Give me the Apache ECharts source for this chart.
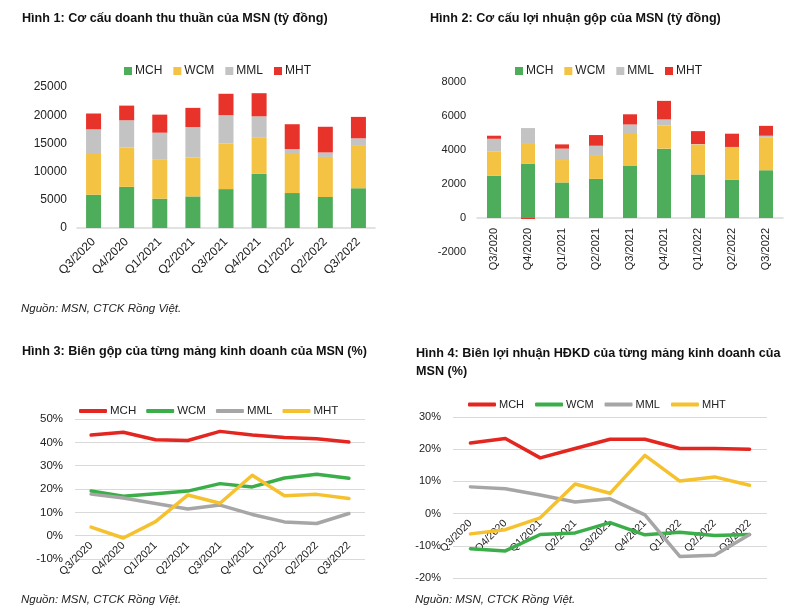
<!DOCTYPE html>
<html><head><meta charset="utf-8">
<script src="https://cdn.jsdelivr.net/npm/echarts@6/dist/echarts.min.js"></script>
<style>
html,body{margin:0;padding:0;background:#fff;width:800px;height:616px;overflow:hidden}
.c{position:absolute}
</style></head>
<body>
<div id="c1" class="c" style="left:0;top:0;width:400px;height:320px"></div>
<div id="c2" class="c" style="left:400px;top:0;width:400px;height:320px"></div>
<div id="c3" class="c" style="left:0;top:320px;width:400px;height:296px"></div>
<div id="c4" class="c" style="left:400px;top:320px;width:400px;height:296px"></div>
<script>
const categories = ['Q3/2020','Q4/2020','Q1/2021','Q2/2021','Q3/2021','Q4/2021','Q1/2022','Q2/2022','Q3/2022'];
const seriesNames = ['MCH','WCM','MML','MHT'];

// Hình 1: doanh thu thuần (tỷ đồng)
const rev_MCH = [5900,7300,5200,5600,6900,9600,6200,5500,7050];
const rev_WCM = [7400,7000,7000,6900,8100,6500,7100,7100,7650];
const rev_MML = [4200,4800,4700,5400,5000,3700,700,800,1200];
const rev_MHT = [2800,2600,3200,3400,3800,4100,4400,4550,3800];

// Hình 2: lợi nhuận gộp (tỷ đồng)
const gp_MCH = [2480,3200,2090,2300,3060,4080,2560,2240,2810];
const gp_WCM = [1420,1210,1320,1350,1880,1360,1770,1880,1910];
const gp_MML = [760,880,670,600,560,360,20,60,120];
const gp_MHT = [180,-60,250,630,600,1090,760,780,580];

// Hình 3: biên gộp (%)
const gm_MCH = [43.1,44.3,41.1,40.8,44.7,43.1,42.1,41.5,40.1];
const gm_WCM = [19.1,16.9,18.0,19.1,22.3,20.9,24.7,26.3,24.6];
const gm_MML = [17.8,16.1,13.8,11.4,13.1,9.1,5.9,5.2,9.5];
const gm_MHT = [3.7,-1.0,6.0,17.4,13.9,25.9,17.1,17.7,15.9];

// Hình 4: biên lợi nhuận HĐKD (%)
const om_MCH = [21.9,23.3,17.3,20.2,23.1,23.1,20.2,20.2,20.0];
const om_WCM = [-10.9,-11.6,-6.5,-6.0,-2.8,-6.6,-5.8,-6.8,-6.5];
const om_MML = [8.3,7.7,5.8,3.6,4.6,-0.4,-13.3,-12.9,-6.5];
const om_MHT = [-6.3,-5.0,-1.3,9.2,6.3,18.1,10.1,11.4,8.8];

const titles = [
  'Hình 1: Cơ cấu doanh thu thuần của MSN (tỷ đồng)',
  'Hình 2: Cơ cấu lợi nhuận gộp của MSN (tỷ đồng)',
  'Hình 3: Biên gộp của từng mảng kinh doanh của MSN (%)',
  'Hình 4: Biên lợi nhuận HĐKD của từng mảng kinh doanh của\nMSN (%)'
];
const sourceText = 'Nguồn: MSN, CTCK Rồng Việt.';

const barColors = ['#4EAD5B','#F5C343','#C3C3C3','#E8332A'];
const lineColors = ['#E3261F','#3BAE4A','#A6A6A6','#F5C12E'];
const FONT = 'Liberation Sans, Arial, sans-serif';
const gridColor = '#D9D9D9';
const plain = v => String(v);

function titleComp(text, left, top){
  return {text:text, left:left, top:top, textStyle:{fontFamily:FONT, fontWeight:'bold', fontSize:12.6, color:'#111', lineHeight:18}};
}
function srcComp(left, top){
  return {text:sourceText, left:left, top:top, textStyle:{fontFamily:FONT, fontStyle:'italic', fontWeight:'normal', fontSize:11.5, color:'#222'}};
}

// Chart 1
const c1 = echarts.init(document.getElementById('c1'));
const rev = [rev_MCH, rev_WCM, rev_MML, rev_MHT];
c1.setOption({
  animation:false,
  title:[titleComp(titles[0], 17, 5), srcComp(16, 298)],
  legend:{left:119, top:60, itemWidth:8, itemHeight:8, itemGap:11, icon:'rect',
    textStyle:{fontFamily:FONT, fontSize:12, color:'#222', padding:[0,0,0,-2]}, data:seriesNames},
  grid:{left:77, right:25, top:87, height:141},
  xAxis:{type:'category', data:categories,
    axisLine:{lineStyle:{color:gridColor, width:1.5}}, axisTick:{show:false},
    axisLabel:{rotate:45, fontFamily:FONT, fontSize:12, color:'#222', margin:12, interval:0}},
  yAxis:{type:'value', min:0, max:25000, interval:5000,
    axisLine:{show:false}, axisTick:{show:false}, splitLine:{show:false},
    axisLabel:{fontFamily:FONT, fontSize:12, color:'#222', margin:10, formatter:plain}},
  series: seriesNames.map((n,i)=>({name:n, type:'bar', stack:'a', barWidth:15, data:rev[i], itemStyle:{color:barColors[i]}}))
});

// Chart 2
const c2 = echarts.init(document.getElementById('c2'));
const gp = [gp_MCH, gp_WCM, gp_MML, gp_MHT];
const g2 = {left:77, right:17, top:82, height:170};
c2.setOption({
  animation:false,
  title:[titleComp(titles[1], 25, 5)],
  legend:{left:110, top:60, itemWidth:8, itemHeight:8, itemGap:11, icon:'rect',
    textStyle:{fontFamily:FONT, fontSize:12, color:'#222', padding:[0,0,0,-2]}, data:seriesNames},
  grid:g2,
  xAxis:{type:'category', data:categories, offset:-g2.height*2000/10000,
    axisLine:{onZero:false, lineStyle:{color:gridColor, width:1.5}}, axisTick:{show:false},
    axisLabel:{rotate:90, fontFamily:FONT, fontSize:11, color:'#222', margin:10, interval:0}},
  yAxis:{type:'value', min:-2000, max:8000, interval:2000,
    axisLine:{show:false}, axisTick:{show:false}, splitLine:{show:false},
    axisLabel:{fontFamily:FONT, fontSize:11, color:'#222', margin:11, formatter:plain}},
  series: seriesNames.map((n,i)=>({name:n, type:'bar', stack:'a', barWidth:14, data:gp[i], itemStyle:{color:barColors[i]}}))
});

function lineOption(titleCfg, src, legendLeft, legendTop, legendGap, grid, ymin, ymax, data, fs){
  return {
    animation:false,
    title:[titleCfg, src],
    legend:{left:legendLeft, top:legendTop, itemWidth:28, itemHeight:4, itemGap:legendGap, icon:'roundRect',
      textStyle:{fontFamily:FONT, fontSize:fs, color:'#222', padding:[0,0,0,-2]}, data:seriesNames},
    grid:grid,
    xAxis:{type:'category', data:categories, boundaryGap:true, offset:-grid.height*(-ymin)/(ymax-ymin),
      axisLine:{onZero:false, show:false}, axisTick:{show:false},
      axisLabel:{rotate:45, fontFamily:FONT, fontSize:fs-0.5, color:'#222', margin:8, interval:0}},
    yAxis:{type:'value', min:ymin, max:ymax, interval:10,
      axisLine:{show:false}, axisTick:{show:false},
      splitLine:{lineStyle:{color:gridColor, width:1.2}},
      axisLabel:{fontFamily:FONT, fontSize:fs, color:'#222', margin:12, formatter:'{value}%'}},
    series: seriesNames.map((n,i)=>({name:n, type:'line', data:data[i], symbol:'none', showSymbol:false,
      lineStyle:{color:lineColors[i], width:3.5, cap:'round', join:'round'}, itemStyle:{color:lineColors[i]}}))
  };
}

const c3 = echarts.init(document.getElementById('c3'));
c3.setOption(lineOption(titleComp(titles[2], 17, 18), srcComp(16, 269), 74, 80, 10,
  {left:75, right:35, top:99, height:140}, -10, 50, [gm_MCH, gm_WCM, gm_MML, gm_MHT], 11.5));

const c4 = echarts.init(document.getElementById('c4'));
c4.setOption(lineOption(titleComp(titles[3], 11, 20), srcComp(10, 269), 63, 74, 11,
  {left:53, right:33, top:97, height:161}, -20, 30, [om_MCH, om_WCM, om_MML, om_MHT], 11));
</script>
</body></html>
